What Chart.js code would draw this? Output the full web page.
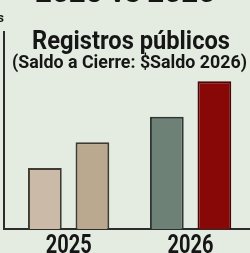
<!DOCTYPE html>
<html>
<head>
<meta charset="utf-8">
<script src="https://cdn.jsdelivr.net/npm/chart.js@4/dist/chart.umd.min.js"></script>
<style>
  html, body { margin: 0; padding: 0; background: #e4ece1; overflow: hidden; }
  #wrap { position: relative; width: 250px; height: 253px; }
</style>
</head>
<body>
<div id="wrap"><canvas id="myChart" width="250" height="253"></canvas></div>
<script>
const years = ['2025', '2026'];
// two bars per year, colours change per year
const firstBar = [31, 57];
const secondBar = [44, 75];
const firstColors = ['#cabaa7', '#6d8177'];
const secondColors = ['#baa88f', '#880808'];
const firstBorders = ['#3e3b33', '#2f3531'];
const secondBorders = ['#3e3b33', '#4a0505'];

const headline = '2025 vs 2026';
const titleText = 'Registros públicos';
const subtitleText = '(Saldo a Cierre: $Saldo 2026)';

// draw text squeezed to a given width (condensed look)
const squeezeText = (ctx, text, cx, y, font, width) => {
    ctx.save();
    ctx.font = font;
    const w = ctx.measureText(text).width;
    ctx.translate(cx, y);
    ctx.scale(width / w, 1);
    ctx.textAlign = 'center';
    ctx.fillText(text, 0, 0);
    ctx.restore();
}

const titles = {
    id: 'titles',
    afterDraw: chart => {
        const ctx = chart.ctx;
        ctx.fillStyle = '#161616';
        ctx.textBaseline = 'alphabetic';
        squeezeText(ctx, headline, 125, 2, 'bold 26px Roboto', 180);
        squeezeText(ctx, titleText, 131, 49, 'bold 26px Roboto', 198);
        squeezeText(ctx, subtitleText, 129.5, 68, 'bold 18px Roboto', 235);
        ctx.save();
        ctx.font = 'bold 13px Roboto';
        ctx.textAlign = 'right';
        ctx.fillText('s', 4, 22);
        ctx.restore();

        // year labels under each group, tall and narrow
        const x = chart.scales.x;
        years.forEach((yr, i) => {
            squeezeText(ctx, yr, x.getPixelForValue(i), 253, 'bold 26px Roboto', 46);
        });
    }
};

const toPoints = arr => arr.map((v, i) => ({ x: i, y: v }));

const ctx = document.getElementById('myChart').getContext('2d');
const myChart = new Chart(ctx, {
    type: 'bar',
    data: {
        datasets: [{
            data: toPoints(firstBar),
            backgroundColor: firstColors,
            borderColor: firstBorders,
            borderWidth: 2
        }, {
            data: toPoints(secondBar),
            backgroundColor: secondColors,
            borderColor: secondBorders,
            borderWidth: 2
        }]
    },
    options: {
        responsive: false,
        animation: false,
        layout: { padding: { top: 32, left: 4, right: 0, bottom: 0 } },
        datasets: { bar: { categoryPercentage: 0.78, barPercentage: 0.71 } },
        plugins: { legend: { display: false }, tooltip: { enabled: false } },
        scales: {
            x: {
                type: 'linear',
                offset: false,
                min: -0.53,
                max: 1.487,
                grid: { display: false },
                border: { color: '#2c2c2c', width: 2 },
                ticks: { display: false, stepSize: 1, includeBounds: false },
                afterFit: scale => { scale.height = 24; }
            },
            y: {
                min: 0,
                max: 100,
                grid: { display: false },
                border: { color: '#2c2c2c', width: 2 },
                ticks: { display: false },
                afterFit: scale => { scale.width = 0; }
            }
        }
    },
    plugins: [titles]
});
</script>
</body>
</html>
